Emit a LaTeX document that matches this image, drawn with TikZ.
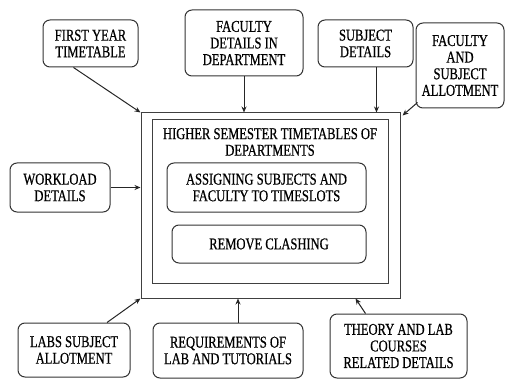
\documentclass[tikz,border=0pt]{standalone}
\usepackage{fontspec}
\setmainfont{Liberation Serif}[FakeStretch=0.76, FakeBold=0.6]
\usepackage{tikz}
\usetikzlibrary{arrows.meta, positioning}

\tikzset{
  infobox/.style={draw=black!80, line width=1pt, rounded corners=7pt, align=center,
    inner sep=2pt, font=\fontsize{16.5}{16.6}\selectfont},
  plainbox/.style={draw=black!75, line width=1pt, inner sep=0pt},
  feed/.style={-{Stealth[length=6pt,width=5pt]}, line width=1pt, draw=black!85}
}

\begin{document}
\begin{tikzpicture}[x=1pt, y=-1pt]
\useasboundingbox (0,0) rectangle (505,379);

\node[plainbox, minimum width=259pt, minimum height=185pt] (outer) at (270.5,205.5) {};
\node[plainbox, minimum width=236pt, minimum height=163pt] (inner) at (270,201.5) {};
\node[align=center, font=\fontsize{16.5}{16.6}\selectfont] (title) at (270,142) {HIGHER SEMESTER TIMETABLES OF\\DEPARTMENTS};
\node[infobox, minimum width=199pt, minimum height=49pt] (assign) at (266.5,187.5) {ASSIGNING SUBJECTS AND\\FACULTY TO TIMESLOTS};
\node[infobox, minimum width=194pt, minimum height=38pt] (clash) at (269,244) {REMOVE CLASHING};

\node[infobox, minimum width=95pt, minimum height=47pt] (firstyear) at (90.5,43.5) {FIRST YEAR\\TIMETABLE};
\node[infobox, minimum width=118pt, minimum height=66pt] (facdept) at (244,43) {FACULTY\\DETAILS IN\\DEPARTMENT};
\node[infobox, minimum width=95pt, minimum height=47pt] (subject) at (365.5,43.5) {SUBJECT\\DETAILS};
\node[infobox, minimum width=88pt, minimum height=85pt] (allot) at (460,65.5) {FACULTY\\AND\\SUBJECT\\ALLOTMENT};
\node[infobox, minimum width=100pt, minimum height=49pt] (workload) at (60,187.5) {WORKLOAD\\DETAILS};

\node[infobox, minimum width=112pt, minimum height=54pt] (labs) at (74,350) {LABS SUBJECT\\ALLOTMENT};
\node[infobox, minimum width=150pt, minimum height=55pt] (reqs) at (228,350.5) {REQUIREMENTS OF\\LAB AND TUTORIALS};
\node[infobox, minimum width=137pt, minimum height=64pt] (theory) at (398.5,346) {THEORY AND LAB\\COURSES\\RELATED DETAILS};

\draw[feed] ([xshift=-17pt]firstyear.south) -- (outer.north west);
\draw[feed] (facdept.south) -- (facdept.south |- outer.north);
\draw[feed] ([xshift=11pt]subject.south) -- ([xshift=11pt]subject.south |- outer.north);
\draw[feed] ([xshift=2pt,yshift=6pt]allot.south west) -- ([xshift=2pt,yshift=-3pt]outer.north east);
\draw[feed] (workload.east) -- (workload.east -| outer.west);
\draw[feed] ([xshift=33pt]labs.north) -- (outer.south west);
\draw[feed] ([xshift=10pt]reqs.north) -- ([xshift=10pt]reqs.north |- outer.south);
\draw[feed] ([xshift=-33pt]theory.north) -- ([xshift=-45pt]outer.south east);
\end{tikzpicture}
\end{document}
